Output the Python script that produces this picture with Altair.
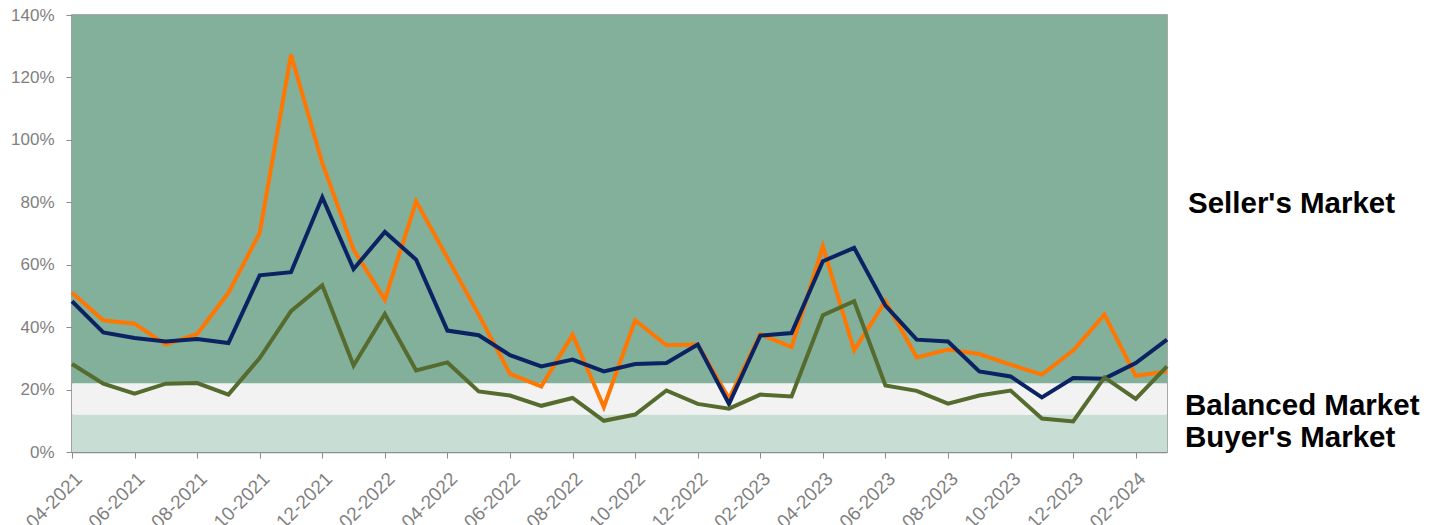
import altair as alt
import pandas as pd

months = ["04-2021", "05-2021", "06-2021", "07-2021", "08-2021", "09-2021", "10-2021", "11-2021", "12-2021",
          "01-2022", "02-2022", "03-2022", "04-2022", "05-2022", "06-2022", "07-2022", "08-2022", "09-2022",
          "10-2022", "11-2022", "12-2022", "01-2023", "02-2023", "03-2023", "04-2023", "05-2023", "06-2023",
          "07-2023", "08-2023", "09-2023", "10-2023", "11-2023", "12-2023", "01-2024", "02-2024", "03-2024"]

orange_vals = [51, 42.2, 41.1, 34.4, 37.8, 51, 70.2, 127.3, 92.6,
               64.8, 48.8, 80.3, 62.2, 44, 25, 21, 37.6, 14.4,
               42.2, 34.2, 34.4, 17.1, 37.8, 33.6, 65.9, 32.6, 48.3,
               30.3, 32.8, 31.4, 28, 24.8, 32.5, 44, 24.4, 25.8]
navy_vals = [48.3, 38.3, 36.5, 35.4, 36.2, 34.9, 56.6, 57.6, 81.6,
             58.6, 70.5, 61.6, 38.9, 37.4, 31, 27.4, 29.6, 25.8,
             28.2, 28.5, 34.4, 15.4, 37.3, 38.1, 61.1, 65.4, 46.9,
             36, 35.4, 25.8, 24.2, 17.5, 23.7, 23.5, 28.5, 36]
olive_vals = [28.2, 21.9, 18.7, 21.9, 22.1, 18.4, 30.1, 45.1, 53.4,
              27.7, 44.2, 26.1, 28.7, 19.4, 18.1, 14.8, 17.3, 10,
              12, 19.7, 15.4, 13.9, 18.4, 17.8, 43.8, 48.3, 21.3,
              19.6, 15.5, 18.1, 19.7, 10.7, 9.8, 23.9, 17, 27.4]

series_names = ["Orange", "Navy", "Olive"]
series_colors = ["#FF7700", "#0B2363", "#566B2E"]

band_names = ["Buyer's Market", "Balanced Market", "Seller's Market"]
band_low = [0, 12, 22]
band_high = [12, 22, 140]
band_colors = ["#C8DED4", "#F2F2F2", "#83B09B"]

y_ticks = [0, 20, 40, 60, 80, 100, 120, 140]
x_ticks = months[::2]

rows = []
for name, vals in zip(series_names, [orange_vals, navy_vals, olive_vals]):
    for m, v in zip(months, vals):
        rows.append({"month": m, "value": v, "series": name})
df = pd.DataFrame(rows)

bands = pd.DataFrame({"band": band_names, "low": band_low, "high": band_high})

W, H = 1095, 437
FONT = "Liberation Sans"

x_enc = alt.X("month:O", sort=months, scale=alt.Scale(padding=0),
              axis=alt.Axis(values=x_ticks, labelAngle=-45, title=None, labelFontSize=19,
                            labelColor="#7F7F7F", labelFont=FONT, domainColor="#8C8C8C",
                            tickColor="#8C8C8C", tickSize=6, labelPadding=11, domainWidth=1.5))
y_scale = alt.Scale(domain=[0, 140], nice=False)
y_axis = alt.Axis(values=y_ticks, labelExpr="datum.value + '%'", title=None, grid=False,
                  labelFontSize=17, labelColor="#7F7F7F", labelFont=FONT, domainColor="#8C8C8C",
                  tickColor="#8C8C8C", tickSize=6, labelPadding=12, domainWidth=1.5)

band_layer = alt.Chart(bands).mark_rect().encode(
    x=alt.value(0), x2=alt.value(W),
    y=alt.Y("low:Q", scale=y_scale, axis=y_axis),
    y2="high:Q",
    color=alt.Color("band:N", scale=alt.Scale(domain=band_names, range=band_colors), legend=None),
)

line_layer = alt.Chart(df).mark_line(strokeWidth=4, strokeJoin="miter").encode(
    x=x_enc,
    y=alt.Y("value:Q", scale=y_scale, axis=y_axis),
    color=alt.Color("series:N", scale=alt.Scale(domain=series_names, range=series_colors), legend=None),
    detail="series:N",
)

labels = pd.DataFrame({"text": ["Seller's Market", "Balanced Market", "Buyer's Market"],
                       "py": [198, 400, 432], "px": [1116, 1113, 1113]})
text_layer = alt.Chart(labels).mark_text(
    align="left", baseline="alphabetic", fontSize=29.5, fontWeight="bold",
    font="Liberation Sans", color="#000000"
).encode(
    x=alt.X("px:Q", scale=None), y=alt.Y("py:Q", scale=None), text="text:N"
)

chart = alt.layer(band_layer, line_layer, text_layer).properties(
    width=W, height=H,
    autosize=alt.AutoSizeParams(type="none"),
    padding={"left": 64, "top": 7, "right": 255, "bottom": 73},
).resolve_scale(color="independent").configure_view(stroke="#8C8C8C", strokeWidth=1.5)

chart.save("out.html", embed_options={"renderer": "svg", "actions": False})
